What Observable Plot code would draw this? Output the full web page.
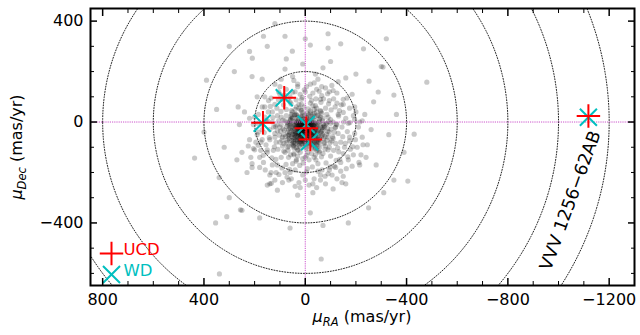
<!DOCTYPE html>
<html><head><meta charset="utf-8">
<script src="https://cdn.jsdelivr.net/npm/d3@7"></script>
<script src="https://cdn.jsdelivr.net/npm/@observablehq/plot@0.6"></script>
<style>body{margin:0;background:#fff;}</style>
</head><body><div id="chart"></div>
<script>
// Objects (UCD secondary + WD primary), proper motions in mas/yr
const ucdRA  = [83, 167, -4, -20, -1118];
const ucdDec = [96, -3, -25, -69, 24];
const wdRA   = [83, 170, -4, -17, -1118];
const wdDec  = [96, -5, -10, -78, 19];
const labelText = ["VVV 1256−62AB"];
const labelRA = [-1047];
const labelDec = [-311];
const circleRadii = [200, 400, 600, 800, 1000, 1200];
const xMajor = [800, 400, 0, -400, -800, -1200];
const yMajor = [400, 0, -400];
const xMinor = [700,600,500,300,200,100,-100,-200,-300,-500,-600,-700,-900,-1000,-1100];
const yMinor = [300,200,100,-100,-200,-300,-500,-600];
const legendNames = ["UCD", "WD"];
// background field stars (pmRA, pmDec)
const cloudCore = [
[-5,-20],[10,-35],[-25,-10],[30,5],[-40,-30],[15,20],[-10,-60],[45,-25],[-55,0],[5,-5],
[20,-50],[-30,15],[60,-10],[-15,-45],[35,30],[-50,-55],[0,10],[25,-70],[-35,-75],[50,15],
[-70,-20],[10,-90],[-20,35],[70,-40],[-45,40],[40,-85],[-65,-45],[15,45],[-5,-100],[80,5],
[-85,-5],[30,-110],[-30,-95],[55,45],[-60,20],[90,-60],[-95,-40],[5,60],[-10,-120],[65,-95],
[-75,-80],[100,-20],[-100,10],[25,70],[-40,65],[45,-130],[-55,-115],[110,25],[-110,-65],[0,-140],
[75,50],[-80,55],[120,-45],[-120,-20],[35,-150],[-35,-140],[85,-115],[-90,-110],[130,0],[-130,30],
[15,90],[-25,85],[60,80],[-60,90],[95,-140],[-100,-135],[140,-70],[-140,-80],[50,-165],[-50,-165],
[12,-28],[-18,-38],[28,-12],[-8,8],[38,-45],[-28,-58],[8,-72],[-42,-12],[52,-35],[-12,-82],
[22,-8],[-32,-22],[42,2],[-2,-48],[18,-62],[-48,-38],[62,-22],[-22,22],[32,-88],[-38,-88],
[2,28],[-58,-68],[48,-62],[-68,5],[72,-72],[-78,-58],[88,-28],[-88,-25],[58,12],[-62,42],
[3,-30],[-7,-15],[14,-22],[-16,-28],[6,-42],[-4,-52],[24,-32],[-26,-42],[34,-18],[-36,-2],
[8,-2],[-12,2],[26,12],[-24,-2],[16,-40],[-6,-35],[44,-50],[-44,-62],[4,-78],[-14,-68]
];
const cloudInner = [
[-2,-18],[6,-26],[-12,-24],[14,-14],[-20,-6],[2,-36],[-8,-44],[18,-30],[-26,-30],[10,-8],
[-16,-14],[22,-22],[-4,-28],[8,-50],[-18,-52],[28,-40],[-30,-44],[0,-4],[16,4],[-24,8],
[32,-6],[-34,-16],[4,-58],[-10,-66],[20,-56],[-36,-62],[36,-56],[-2,-70],[12,-76],[-22,-74],
[40,-16],[-44,-24],[26,-2],[-28,-4],[6,12],[-6,16],[44,-32],[-48,-46],[14,-86],[-16,-84],
[-1,-12],[5,-20],[-9,-32],[11,-38],[-13,-2],[19,-46],[-21,-20],[3,-64],[-5,-40],[25,-26],
[-3,-8],[7,-14],[-11,-46],[13,-54],[-19,-36],[21,-10],[-23,-64],[27,-50],[-29,-12],[1,-24],
[9,-32],[-7,-22],[15,-44],[-15,-6],[23,-64],[-25,-50],[29,-16],[-31,-34],[33,-70],[-35,-8],
[-40,6],[42,-62],[-46,-76],[48,-8],[-50,-10],[50,-48],[-52,-34],[38,6],[-38,22],[18,24],
[-14,28],[0,-88],[24,-92],[-30,-90],[54,-74],[-56,-80],[58,-26],[-60,-16],[10,38],[-20,44],
[60,4],[-64,-56],[30,18],[-4,-106],[46,-96],[-42,-104],[64,-52],[-70,-30],[40,30],[-36,34]
];
const cloudDense = [
[-3,-25],[7,-31],[-13,-19],[17,-37],[-23,-41],[27,-27],[-33,-13],[3,-47],[-7,-57],[13,-63],
[-17,-3],[23,-7],[-27,-53],[33,-43],[-37,-33],[37,-23],[-43,-47],[43,-13],[-3,-67],[9,1],
[-9,-77],[19,-79],[-29,-69],[29,-59],[-39,-57],[39,-71],[-47,-17],[47,-39],[-53,-29],[53,-19],
[1,-15],[-1,-35],[11,-23],[-11,-39],[21,-43],[-21,-27],[31,-33],[-31,-49],[41,-51],[-41,-5],
[5,-85],[-15,-91],[25,-83],[-35,-81],[45,-79],[-45,-91],[55,-57],[-55,-63],[57,-5],[-57,3],
[15,11],[-19,13],[35,-1],[-5,19],[-27,-79],[31,-75],[-51,-71],[61,-41],[-61,-39],[63,-65],
[0,-20],[2,-30],[-6,-28],[8,-40],[-10,-10],[12,-18],[-14,-34],[16,-26],[-18,-44],[20,-14],
[-22,-16],[24,-48],[-26,-24],[28,-32],[-30,-56],[32,-52],[-34,-38],[36,-10],[-38,-46],[40,-40],
[-2,-54],[4,-62],[-8,-70],[10,-68],[-12,-58],[14,-70],[-16,-62],[18,-72],[-20,-86],[22,-78],
[6,-10],[-4,-4],[10,-2],[-14,-8],[18,-4],[-22,-2],[26,-16],[-28,-20],[30,-24],[-32,-28],
[66,-28],[-66,-22],[68,-54],[-68,-50],[48,-84],[-50,-96],[20,-100],[-26,-104],[56,22],[-54,24],
[34,26],[-30,30],[12,26],[-8,34],[70,-10],[-72,-8],[44,-104],[-46,-112],[74,-82],[-74,-86]
];
const cloudHalo1 = [
[60,10],[-70,15],[85,-50],[-90,-60],[40,50],[-45,55],[95,-10],[-100,-5],[20,-120],[-25,-125],
[70,-100],[-80,-95],[110,-35],[-115,-40],[55,30],[-65,35],[30,-135],[-40,-130],[100,-80],[-105,-75],
[75,25],[-85,30],[15,70],[-20,75],[90,-95],[-95,-100],[120,-60],[-125,-10],[45,-125],[-55,-120],
[65,-5],[-75,-15],[105,5],[-110,0],[35,60],[-30,65],[80,-120],[-70,-125],[115,-80],[-120,-85],
[50,40],[-60,45],[10,-145],[-15,-150],[95,20],[-90,20],[125,-20],[-130,-45],[25,55],[-35,50],
[62,-72],[-72,-66],[82,-32],[-88,-38],[68,-112],[-78,-108],[102,-52],[-108,-58],[48,-92],[-58,-98],
[72,-2],[-82,-8],[52,18],[-56,12],[112,-12],[-118,-22],[28,-112],[-38,-108],[92,-72],[-98,-82],
[78,-58],[-84,-48],[58,-130],[-64,-138],[108,-108],[-112,-112],[18,48],[-12,52],[88,8],[-92,2],
[66,-140],[-6,-132],[122,-98],[-128,-102],[42,28],[-48,26],[98,-36],[-102,-28],[36,-102],[-46,-82],
[84,-86],[-86,-72],[64,-48],[-66,-36],[74,-18],[-76,-22],[54,-88],[-52,-78],[44,-70],[-40,-66]
];
const cloudHalo2 = [
[140,-30],[-145,-20],[130,40],[-135,45],[90,90],[-95,85],[20,110],[-30,115],[150,-120],[-150,-125],
[110,-170],[-115,-175],[40,-190],[-50,-195],[170,-70],[-175,-75],[160,20],[-160,15],[120,70],[-125,75],
[60,100],[-65,105],[0,120],[165,-160],[-170,-150],[80,-200],[-90,-205],[10,-210],[190,-50],[-195,-45],
[185,30],[-190,25],[145,85],[-150,90],[75,130],[-80,135],[-5,140],[135,-200],[-140,-195],[55,-225],
[-60,-230],[200,-110],[-205,-100],[205,-10],[-210,-20],[170,60],[-175,55],[105,120],[-110,125],
[30,150],[-35,155],[180,-180],[-185,-175],[120,-230],[-125,-225],[25,-240],[-30,-245],[215,-140],[-220,-130],
[155,-90],[-158,-85],[148,5],[-152,0],[112,55],[-118,60],[68,88],[-72,92],[12,98],[-18,102],
[132,-142],[-136,-148],[92,-182],[-98,-178],[22,-172],[-28,-178],[176,-112],[-178,-108],[172,-8],[-176,-2],
[138,62],[-142,68],[82,108],[-88,112],[4,128],[158,-190],[-162,-185],[72,-218],[-78,-215],[-4,-198],
[195,-80],[-198,-70],[190,-5],[-195,10],[160,100],[-165,95],[100,140],[-105,145],[45,165],[-50,170],
[210,-165],[-212,-160],[140,-245],[-145,-240],[40,-255],[-45,-260],[225,-95],[-228,-90],[220,15],[-225,5],
[126,-112],[-132,-118],[118,-18],[-122,-8],[96,42],[-102,48],[56,72],[-62,78],[8,-162],[-8,-185],
[142,-62],[-148,-58],[128,18],[-132,24],[86,68],[-92,72],[36,88],[-42,92],[116,-148],[-122,-152],
[76,-168],[-82,-162],[36,-155],[-42,-150],[166,-132],[-168,-138],[186,-92],[-188,-98],[162,-42],[-166,-38],
[146,40],[-150,38],[106,88],[-112,92],[50,118],[-55,122],[104,-208],[-106,-210],[62,-188],[-66,-190]
];
const cloudMid = [
[150,-110],[-155,-100],[170,-30],[-170,-5],[160,60],[-150,70],[100,110],[-95,120],[30,140],[-20,150],
[130,-170],[-120,-180],[60,-200],[-60,-210],[0,-230],[180,-140],[-190,-130],[200,20],[-200,40],[190,100],
[-185,110],[120,150],[-130,160],[50,180],[-40,190],[140,-210],[-150,-215],[90,-240],[-80,-245],[20,-260],
[220,-70],[-225,-60],[210,-180],[-215,-170],[240,40],[-235,30],[170,170],[-160,175],[80,210],[-70,215],
[250,-120],[-240,-140],[110,-270],[-110,-265],[30,-290],[-30,-280],[260,-10],[-260,-30],[150,-250],[-160,-245],
[95,170],[-45,130],[175,-80],[-175,-60],[65,-230],[-95,-190],[205,-105],[-215,0],[135,95],[-125,115],
[155,5],[-140,-160],[40,120],[-65,140],[115,-200],[-35,-225],[230,-200],[-245,-90],[185,-40],[-195,60],
[75,250],[-100,240],[10,230],[-15,-250],[270,-150],[-280,-170],[265,60],[-270,80],[210,180],[-200,190]
];
const cloudOuter = [
[300,-300],[-310,-280],[320,-100],[-330,-50],[280,200],[-300,220],[150,300],[-140,310],[0,330],[-20,-360],
[250,-350],[-250,-340],[350,50],[-360,30],[400,-40],[-390,-120],[180,-380],[-170,-400],[60,-420],[-70,-410],
[340,-220],[-350,-230],[220,280],[-230,290],[80,340],[-90,350],[300,300],[-320,330],[120,390],
[339,-602],[-63,-543],[354,-400],[-405,-234],[437,-143],[390,166],[165,340],[209,253],[-90,293],[-20,305],
[51,281],[-252,162],[-288,119],[-350,107],[-307,218],[-480,158],[-430,-48],[310,-375],[256,-348],[134,-243]
];

const cloud = [...cloudCore, ...cloudInner, ...cloudDense, ...cloudHalo1, ...cloudHalo2, ...cloudMid, ...cloudOuter].map(([x, y]) => ({x, y}));
const ucd = ucdRA.map((x, i) => ({x, y: ucdDec[i]}));
const wd = wdRA.map((x, i) => ({x, y: wdDec[i]}));
const circles = circleRadii.flatMap(r => d3.range(0, 361, 1).map(a => ({r, x: r * Math.cos(a * Math.PI / 180), y: r * Math.sin(a * Math.PI / 180)})));
const fmt = d => d < 0 ? "\u2212" + Math.abs(d) : String(d);
const RED = "#ff0000", CYAN = "#00bfbf", MAG = "#cc55cc";

const plot = Plot.plot({
  width: 640, height: 335,
  marginLeft: 90, marginRight: 6, marginTop: 8, marginBottom: 50,
  style: {fontFamily: "'DejaVu Sans', sans-serif", fontSize: "16px", background: "#fff", color: "black"},
  x: {domain: [848, -1300]},
  y: {domain: [-648, 450]},
  marks: [
    Plot.dot(cloud, {x: "x", y: "y", r: 2.6, fill: "black", fillOpacity: 0.21, clip: true}),
    Plot.line(circles, {x: "x", y: "y", z: "r", stroke: "#222", strokeWidth: 1, strokeDasharray: "1,1.7", clip: true}),
    Plot.ruleX([0], {stroke: MAG, strokeWidth: 1, strokeDasharray: "1.2,1"}),
    Plot.ruleY([0], {stroke: MAG, strokeWidth: 1, strokeDasharray: "1.2,1"}),
    Plot.dot(wd, {x: "x", y: "y", symbol: "times", r: 7.8, stroke: CYAN, strokeWidth: 2}),
    Plot.dot(ucd, {x: "x", y: "y", symbol: "plus", r: 7.6, stroke: RED, strokeWidth: 2}),
    Plot.text(labelText, {x: () => labelRA[0], y: () => labelDec[0], text: d => d, rotate: -70, fontSize: 17.5, fill: "black"}),
    // legend
    Plot.dot([legendNames[0]], {frameAnchor: "bottom-left", dx: 21, dy: -32, symbol: "plus", r: 7.6, stroke: RED, strokeWidth: 2}),
    Plot.dot([legendNames[1]], {frameAnchor: "bottom-left", dx: 21, dy: -11, symbol: "times", r: 7.8, stroke: CYAN, strokeWidth: 2}),
    Plot.text([legendNames[0]], {frameAnchor: "bottom-left", dx: 33, dy: -31, text: d => d, textAnchor: "start", fill: RED, fontSize: 16.5}),
    Plot.text([legendNames[1]], {frameAnchor: "bottom-left", dx: 33, dy: -10, text: d => d, textAnchor: "start", fill: CYAN, fontSize: 16.5}),
    // axes: ticks inward on all sides
    Plot.axisX({anchor: "bottom", ticks: xMajor, tickSize: -7, strokeWidth: 1.5, fill: "none", label: null}),
    Plot.axisX({anchor: "top", ticks: xMajor, tickSize: -7, strokeWidth: 1.5, fill: "none", label: null}),
    Plot.axisX({anchor: "bottom", ticks: xMinor, tickSize: -4, strokeWidth: 1, fill: "none", label: null}),
    Plot.axisX({anchor: "top", ticks: xMinor, tickSize: -4, strokeWidth: 1, fill: "none", label: null}),
    Plot.axisX({anchor: "bottom", ticks: xMajor, tickSize: 0, tickPadding: 8, tickFormat: fmt, label: null}),
    Plot.axisY({anchor: "left", ticks: yMajor, tickSize: -7, strokeWidth: 1.5, fill: "none", label: null}),
    Plot.axisY({anchor: "right", ticks: yMajor, tickSize: -7, strokeWidth: 1.5, fill: "none", label: null}),
    Plot.axisY({anchor: "left", ticks: yMinor, tickSize: -4, strokeWidth: 1, fill: "none", label: null}),
    Plot.axisY({anchor: "right", ticks: yMinor, tickSize: -4, strokeWidth: 1, fill: "none", label: null}),
    Plot.axisY({anchor: "left", ticks: yMajor, tickSize: 0, tickPadding: 7, tickFormat: fmt, label: null}),
    Plot.frame({stroke: "black", strokeWidth: 2})
  ]
});
document.getElementById("chart").appendChild(plot);

// axis titles with italic mu and subscripts
const svg = d3.select(plot);
const xl = svg.append("text").attr("x", 362).attr("y", 322).attr("text-anchor", "middle").attr("font-size", 16).attr("fill", "black");
xl.append("tspan").attr("font-style", "italic").text("μ");
xl.append("tspan").attr("font-style", "italic").attr("font-size", 11.5).attr("dy", 4).text("RA");
xl.append("tspan").attr("dy", -4).text(" (mas/yr)");
const yl = svg.append("text").attr("transform", "translate(22,147) rotate(-90)").attr("text-anchor", "middle").attr("font-size", 16).attr("fill", "black");
yl.append("tspan").attr("font-style", "italic").text("μ");
yl.append("tspan").attr("font-style", "italic").attr("font-size", 11.5).attr("dy", 4).text("Dec");
yl.append("tspan").attr("dy", -4).text(" (mas/yr)");
</script>
</body></html>
